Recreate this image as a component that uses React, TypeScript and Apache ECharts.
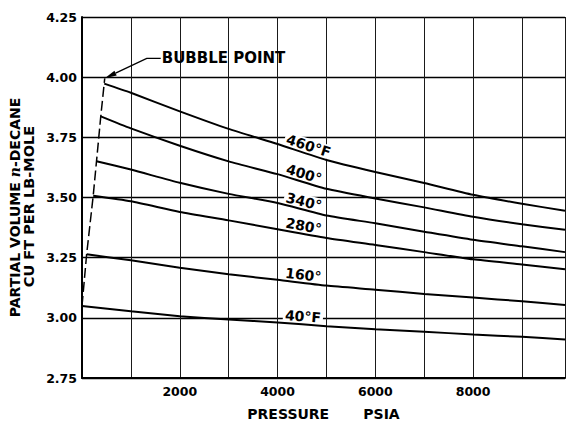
import React, { useEffect, useRef } from "react";
import * as echarts from "echarts";

// Pressure ticks that carry a label (grid lines every 1000 psia)
const labelledPressures = [2000, 4000, 6000, 8000];

// Isotherm labels, top to bottom
const isothermLabels = ["460°F", "400°", "340°", "280°", "160°", "40°F"];

// Partial volume of n-decane [pressure psia, cu ft per lb-mole]
const t460 = [[455, 3.973], [1000, 3.935], [2000, 3.858], [3000, 3.785], [4000, 3.722], [5000, 3.656], [6000, 3.606], [7000, 3.56], [8000, 3.511], [9000, 3.474], [9880, 3.445]];
const t400 = [[384, 3.837], [1000, 3.787], [2000, 3.715], [3000, 3.65], [4000, 3.597], [5000, 3.536], [6000, 3.496], [7000, 3.459], [8000, 3.42], [9000, 3.389], [9880, 3.366]];
const t340 = [[297, 3.651], [1000, 3.616], [2000, 3.561], [3000, 3.515], [4000, 3.477], [5000, 3.425], [6000, 3.393], [7000, 3.358], [8000, 3.324], [9000, 3.297], [9880, 3.273]];
const t280 = [[229, 3.507], [1000, 3.484], [2000, 3.44], [3000, 3.405], [4000, 3.368], [5000, 3.332], [6000, 3.303], [7000, 3.273], [8000, 3.243], [9000, 3.222], [9880, 3.202]];
const t160 = [[95, 3.264], [1000, 3.239], [2000, 3.208], [3000, 3.181], [4000, 3.158], [5000, 3.134], [6000, 3.117], [7000, 3.099], [8000, 3.084], [9000, 3.069], [9880, 3.053]];
const t40 = [[0, 3.049], [1000, 3.027], [2000, 3.007], [3000, 2.993], [4000, 2.981], [5000, 2.965], [6000, 2.953], [7000, 2.942], [8000, 2.931], [9000, 2.921], [9880, 2.91]];

// Bubble-point locus (dashed)
const bubblePoints = [[0, 3.05], [95, 3.264], [229, 3.507], [297, 3.651], [384, 3.837], [465, 3.995]];

const FONT = "DejaVu Sans";

function valueAt(curve: number[][], p: number): number {
  for (let i = 1; i < curve.length; i++) {
    if (p <= curve[i][0]) {
      const [p0, v0] = curve[i - 1];
      const [p1, v1] = curve[i];
      return v0 + ((v1 - v0) * (p - p0)) / (p1 - p0);
    }
  }
  return curve[curve.length - 1][1];
}

export default function App() {
  const ref = useRef<HTMLDivElement>(null);

  useEffect(() => {
    const chart = echarts.init(ref.current!, null, { renderer: "svg" });
    const curves = [t460, t400, t340, t280, t160, t40];

    chart.setOption({
      animation: false,
      backgroundColor: "#fff",
      grid: { left: 82, right: -2, top: 17, bottom: 41 },
      xAxis: {
        type: "value",
        min: 0,
        max: 9880,
        interval: 1000,
        axisLine: { show: true, onZero: false, lineStyle: { color: "#000", width: 2 } },
        axisTick: { show: false },
        splitLine: { show: true, lineStyle: { color: "#1a1a1a", width: 1 } },
        axisLabel: {
          formatter: (v: number) => (labelledPressures.includes(v) ? String(v) : ""),
          fontFamily: FONT,
          fontWeight: "bold",
          fontSize: 12.5,
          color: "#000",
          margin: 7,
        },
        name: "PRESSURE       PSIA",
        nameLocation: "middle",
        nameGap: 29,
        nameTextStyle: { fontFamily: FONT, fontWeight: "bold", fontSize: 14, color: "#000" },
      },
      yAxis: {
        type: "value",
        min: 2.75,
        max: 4.25,
        interval: 0.25,
        axisLine: { show: true, onZero: false, lineStyle: { color: "#000", width: 2 } },
        axisTick: { show: false },
        splitLine: { show: true, lineStyle: { color: "#000", width: 1.3 } },
        axisLabel: {
          formatter: (v: number) => v.toFixed(2),
          fontFamily: FONT,
          fontWeight: "bold",
          fontSize: 12.5,
          color: "#000",
          margin: 5,
        },
      },
      series: [
        ...curves.map((d, i) => ({
          name: isothermLabels[i],
          type: "line",
          data: d,
          symbol: "none",
          smooth: 0.2,
          lineStyle: { color: "#000", width: 2 },
          z: 3,
        })),
        {
          name: "bubble point",
          type: "line",
          data: bubblePoints,
          symbol: "none",
          lineStyle: { color: "#000", width: 1.5, type: [10, 4] },
          z: 3,
        },
      ],
    });

    const px = (p: number, v: number) =>
      chart.convertToPixel({ gridIndex: 0 }, [p, v]) as number[];

    const elements: any[] = [];

    // Isotherm labels sitting just above each curve, following its slope
    curves.forEach((curve, i) => {
      const p = 4100;
      const [ax, ay] = px(p, valueAt(curve, p));
      const [x0, y0] = px(4000, valueAt(curve, 4000));
      const [x1, y1] = px(5000, valueAt(curve, 5000));
      const ang = Math.atan2(y1 - y0, x1 - x0);
      const off = 8;
      elements.push({
        type: "text",
        x: ax + Math.sin(ang) * off,
        y: ay - Math.cos(ang) * off,
        rotation: -ang,
        z: 1,
        silent: true,
        style: {
          text: isothermLabels[i],
          fontFamily: FONT,
          fontSize: 14,
          fontWeight: "bold",
          fill: "#000",
          align: "left",
          verticalAlign: "middle",
          backgroundColor: "#fff",
          padding: [0, 2],
        },
      });
    });

    // Bubble point callout
    const tip = bubblePoints[bubblePoints.length - 1];
    const [tx, ty] = px(tip[0], tip[1]);
    const elbow = [tx + 42, ty - 20];
    const dx = tx - elbow[0];
    const dy = ty - elbow[1];
    const len = Math.hypot(dx, dy);
    const ux = dx / len;
    const uy = dy / len;
    const bx = tx - ux * 12;
    const by = ty - uy * 12;
    elements.push(
      {
        type: "polyline",
        silent: true,
        z: 4,
        shape: { points: [[elbow[0] + 14, elbow[1]], elbow, [bx, by]] },
        style: { stroke: "#000", lineWidth: 1.4, fill: null },
      },
      {
        type: "polygon",
        silent: true,
        z: 4,
        shape: {
          points: [
            [tx, ty],
            [bx - uy * 2.6, by + ux * 2.6],
            [bx + uy * 2.6, by - ux * 2.6],
          ],
        },
        style: { fill: "#000" },
      },
      {
        type: "text",
        silent: true,
        z: 4,
        x: elbow[0] + 15,
        y: elbow[1],
        style: {
          text: "BUBBLE POINT",
          fontFamily: FONT,
          fontSize: 15,
          fontWeight: "bold",
          fill: "#000",
          align: "left",
          verticalAlign: "middle",
        },
      }
    );

    // Two-line vertical axis title
    const [, cy] = px(0, 3.5);
    elements.push(
      {
        type: "text",
        silent: true,
        x: 15,
        y: cy + 10,
        rotation: Math.PI / 2,
        style: {
          text: "PARTIAL VOLUME {n|n}-DECANE",
          fontFamily: FONT,
          fontSize: 14,
          fontWeight: "bold",
          fill: "#000",
          align: "center",
          verticalAlign: "middle",
          rich: {
            n: { fontFamily: "DejaVu Serif", fontStyle: "italic", fontWeight: "bold", fontSize: 14, fill: "#000" },
          },
        },
      },
      {
        type: "text",
        silent: true,
        x: 29,
        y: cy + 9,
        rotation: Math.PI / 2,
        style: {
          text: "CU FT PER LB-MOLE",
          fontFamily: FONT,
          fontSize: 14.5,
          fontWeight: "bold",
          fill: "#000",
          align: "center",
          verticalAlign: "middle",
        },
      }
    );

    chart.setOption({ graphic: { elements } });

    return () => chart.dispose();
  }, []);

  return (
    <div
      ref={ref}
      style={{ position: "fixed", left: 0, top: 0, width: 568, height: 426, background: "#fff" }}
    />
  );
}
